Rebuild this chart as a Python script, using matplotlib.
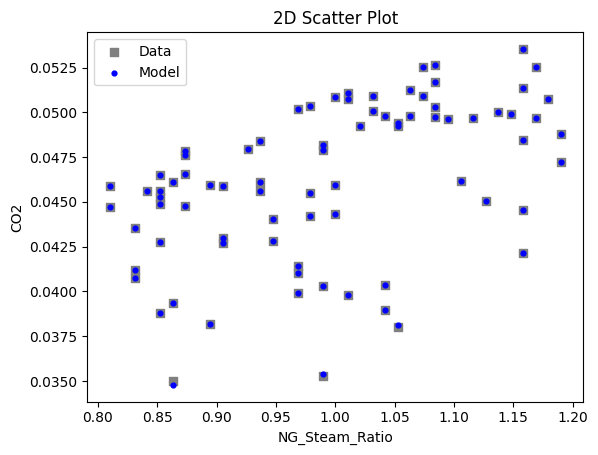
import numpy as np
import matplotlib
matplotlib.use('Agg')
import matplotlib.pyplot as plt

# NG_Steam_Ratio of every sample
ng_steam_ratio = [
    0.8100, 0.8100,
    0.8311, 0.8311, 0.8311,
    0.8417,
    0.8522, 0.8522, 0.8522, 0.8522, 0.8522, 0.8522,
    0.8628, 0.8628, 0.8628,
    0.8733, 0.8733, 0.8733, 0.8733,
    0.8944, 0.8944,
    0.9050, 0.9050, 0.9050,
    0.9261,
    0.9367, 0.9367, 0.9367,
    0.9472, 0.9472,
    0.9683, 0.9683, 0.9683, 0.9683,
    0.9789, 0.9789, 0.9789,
    0.9894, 0.9894, 0.9894, 0.9894,
    1.0000, 1.0000, 1.0000,
    1.0106, 1.0106, 1.0106,
    1.0211,
    1.0317, 1.0317,
    1.0422, 1.0422, 1.0422,
    1.0528, 1.0528, 1.0528,
    1.0633, 1.0633,
    1.0739, 1.0739,
    1.0844, 1.0844, 1.0844, 1.0844,
    1.0950,
    1.1056,
    1.1161,
    1.1267,
    1.1372,
    1.1478,
    1.1583, 1.1583, 1.1583, 1.1583, 1.1583,
    1.1689, 1.1689,
    1.1794,
    1.1900, 1.1900,
]

# model prediction
co2_model = [
    0.04590, 0.04473,
    0.04355, 0.04119, 0.04075,
    0.04560,
    0.04651, 0.04560, 0.04527, 0.04489, 0.04276, 0.03879,
    0.04610, 0.03937, 0.03478,
    0.04785, 0.04761, 0.04657, 0.04477,
    0.04594, 0.03818,
    0.04590, 0.04296, 0.04273,
    0.04796,
    0.04841, 0.04610, 0.04560,
    0.04404, 0.04281,
    0.05020, 0.04142, 0.04103, 0.03991,
    0.05035, 0.04551, 0.04422,
    0.04819, 0.04791, 0.04030, 0.03541,
    0.05087, 0.04594, 0.04434,
    0.05109, 0.05077, 0.03982,
    0.04923,
    0.05090, 0.05007,
    0.04979, 0.04036, 0.03896,
    0.04940, 0.04926, 0.03813,
    0.05124, 0.04979,
    0.05252, 0.05090,
    0.05263, 0.05169, 0.05029, 0.04973,
    0.04962,
    0.04616,
    0.04971,
    0.04504,
    0.05001,
    0.04990,
    0.05353, 0.05135, 0.04847, 0.04454, 0.04214,
    0.05252, 0.04968,
    0.05074,
    0.04878, 0.04724,
]

# measured CO2 (mostly equal to the model, a few differ)
co2_data = [
    0.04590, 0.04473,
    0.04355, 0.04119, 0.04075,
    0.04560,
    0.04651, 0.04560, 0.04527, 0.04489, 0.04276, 0.03879,
    0.04610, 0.03937, 0.03500,
    0.04785, 0.04761, 0.04657, 0.04477,
    0.04594, 0.03818,
    0.04590, 0.04296, 0.04273,
    0.04796,
    0.04841, 0.04610, 0.04560,
    0.04404, 0.04281,
    0.05020, 0.04142, 0.04103, 0.03991,
    0.05035, 0.04551, 0.04422,
    0.04819, 0.04791, 0.04030, 0.03530,
    0.05087, 0.04594, 0.04434,
    0.05109, 0.05077, 0.03982,
    0.04923,
    0.05090, 0.05007,
    0.04979, 0.04036, 0.03896,
    0.04940, 0.04926, 0.03801,
    0.05124, 0.04979,
    0.05252, 0.05090,
    0.05263, 0.05169, 0.05029, 0.04973,
    0.04962,
    0.04616,
    0.04971,
    0.04504,
    0.05001,
    0.04990,
    0.05353, 0.05135, 0.04847, 0.04454, 0.04214,
    0.05252, 0.04968,
    0.05074,
    0.04878, 0.04724,
]

fig = plt.figure(figsize=(5.98, 4.55), dpi=100)
ax = fig.add_axes([0.146, 0.117, 0.8294, 0.812])

ax.scatter(ng_steam_ratio, co2_data, c='grey', marker='s', s=40, label='Data')
ax.scatter(ng_steam_ratio, co2_model, c='blue', marker='o', s=12, label='Model')

ax.set_title('2D Scatter Plot')
ax.set_xlabel('NG_Steam_Ratio')
ax.set_ylabel('CO2')
ax.legend(loc='upper left')

fig.savefig('out.png', dpi=100)
